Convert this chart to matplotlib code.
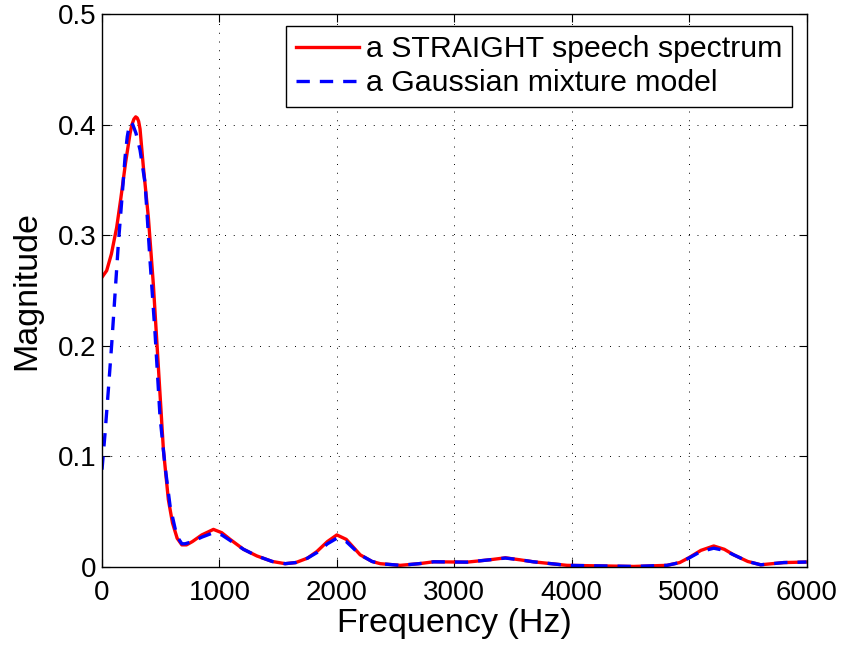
import numpy as np
import matplotlib.pyplot as plt

plt.rcParams['font.family'] = ['Liberation Sans', 'DejaVu Sans']

# STRAIGHT speech spectrum
freq_straight = [0, 40, 80, 125, 160, 200, 239, 255, 272, 287, 300, 312, 324, 352, 395,
                 437, 480, 523, 565, 600, 640, 680, 720, 770, 850, 949, 1020, 1091,
                 1205, 1319, 1450, 1560, 1650, 1750, 1830, 1920, 2000, 2080, 2199,
                 2300, 2370, 2540, 2700, 2824, 3109, 3300, 3435, 3560, 3674, 3960,
                 4250, 4528, 4812, 4920, 4997, 5100, 5210, 5300, 5380, 5500, 5610,
                 5805, 6000]
mag_straight = [0.262, 0.268, 0.283, 0.307, 0.333, 0.365, 0.392, 0.400, 0.405, 0.407,
                0.406, 0.403, 0.396, 0.362, 0.316, 0.256, 0.181, 0.106, 0.061, 0.040,
                0.026, 0.020, 0.020, 0.023, 0.029, 0.034, 0.031, 0.025, 0.016, 0.010,
                0.005, 0.003, 0.004, 0.008, 0.014, 0.023, 0.029, 0.025, 0.011, 0.005,
                0.003, 0.0015, 0.003, 0.0047, 0.0044, 0.0065, 0.0083, 0.0065, 0.0047,
                0.0015, 0.001, 0.0005, 0.0015, 0.004, 0.0083, 0.015, 0.019, 0.016,
                0.011, 0.005, 0.002, 0.004, 0.0045]

# Gaussian mixture model
freq_gmm = [0, 26, 54, 83, 111, 139, 168, 196, 215, 230, 245, 262, 290, 324, 367,
            409, 452, 494, 537, 580, 637, 680, 708, 770, 850, 949, 1020, 1091, 1205,
            1319, 1450, 1560, 1650, 1750, 1830, 1920, 2000, 2080, 2199, 2300,
            2370, 2540, 2700, 2824, 3109, 3300, 3435, 3560, 3674, 3960, 4250,
            4528, 4812, 4920, 4997, 5100, 5210, 5300, 5380, 5500, 5610, 5805, 6000]
mag_gmm = [0.088, 0.121, 0.160, 0.202, 0.247, 0.292, 0.331, 0.370, 0.389, 0.398,
           0.402, 0.400, 0.392, 0.377, 0.347, 0.277, 0.211, 0.136, 0.091, 0.055,
           0.028, 0.021, 0.021, 0.023, 0.027, 0.031, 0.029, 0.024, 0.016, 0.010,
           0.005, 0.003, 0.004, 0.008, 0.013, 0.021, 0.026, 0.023, 0.011, 0.005,
           0.003, 0.0015, 0.003, 0.0047, 0.0044, 0.0065, 0.0081, 0.0065, 0.0047,
           0.0015, 0.001, 0.0005, 0.0015, 0.004, 0.008, 0.014, 0.017, 0.015, 0.011,
           0.005, 0.002, 0.004, 0.0045]

x_ticks = [0, 1000, 2000, 3000, 4000, 5000, 6000]
y_ticks = [0, 0.1, 0.2, 0.3, 0.4, 0.5]
y_ticklabels = ['0', '0.1', '0.2', '0.3', '0.4', '0.5']

W, H = 844, 646
L, R, T, B = 102, 806.5, 14, 567

fig = plt.figure(figsize=(W/100, H/100), dpi=100)
ax = fig.add_axes([L/W, (H-B)/H, (R-L)/W, (B-T)/H])

ax.plot(freq_straight, mag_straight, color='red', lw=2.4, label='a STRAIGHT speech spectrum')
ax.plot(freq_gmm, mag_gmm, color='blue', lw=2.4, dashes=(4, 3), label='a Gaussian mixture model')

ax.set_xlim(0, 6000)
ax.set_ylim(0, 0.5)
ax.set_xticks(x_ticks)
ax.set_yticks(y_ticks)
ax.set_xticklabels([str(v) for v in x_ticks])
ax.set_yticklabels(y_ticklabels)
ax.tick_params(direction='in', length=6, width=0.8, top=True, right=True, labelsize=20)
ax.tick_params(axis='x', pad=9)
ax.tick_params(axis='y', pad=4)
ax.grid(True, color='black', linestyle=(0, (1, 8)), linewidth=0.7)
for s in ax.spines.values():
    s.set_linewidth(1.0)

ax.set_xlabel('Frequency (Hz)', fontsize=24.5, labelpad=2)
ax.set_ylabel('Magnitude', fontsize=24.5)
ax.yaxis.set_label_coords(-0.085, 0.5)

leg = ax.legend(loc='upper right', bbox_to_anchor=(1 - 14.5/(R-L), 1 - 11.7/(B-T)),
                borderaxespad=0, fontsize=21.8, fancybox=False, framealpha=1,
                edgecolor='black', handlelength=2.1, handletextpad=0.22,
                borderpad=0.32, labelspacing=0.2)
leg.get_frame().set_linewidth(1.0)

fig.savefig('out.png', dpi=100)
